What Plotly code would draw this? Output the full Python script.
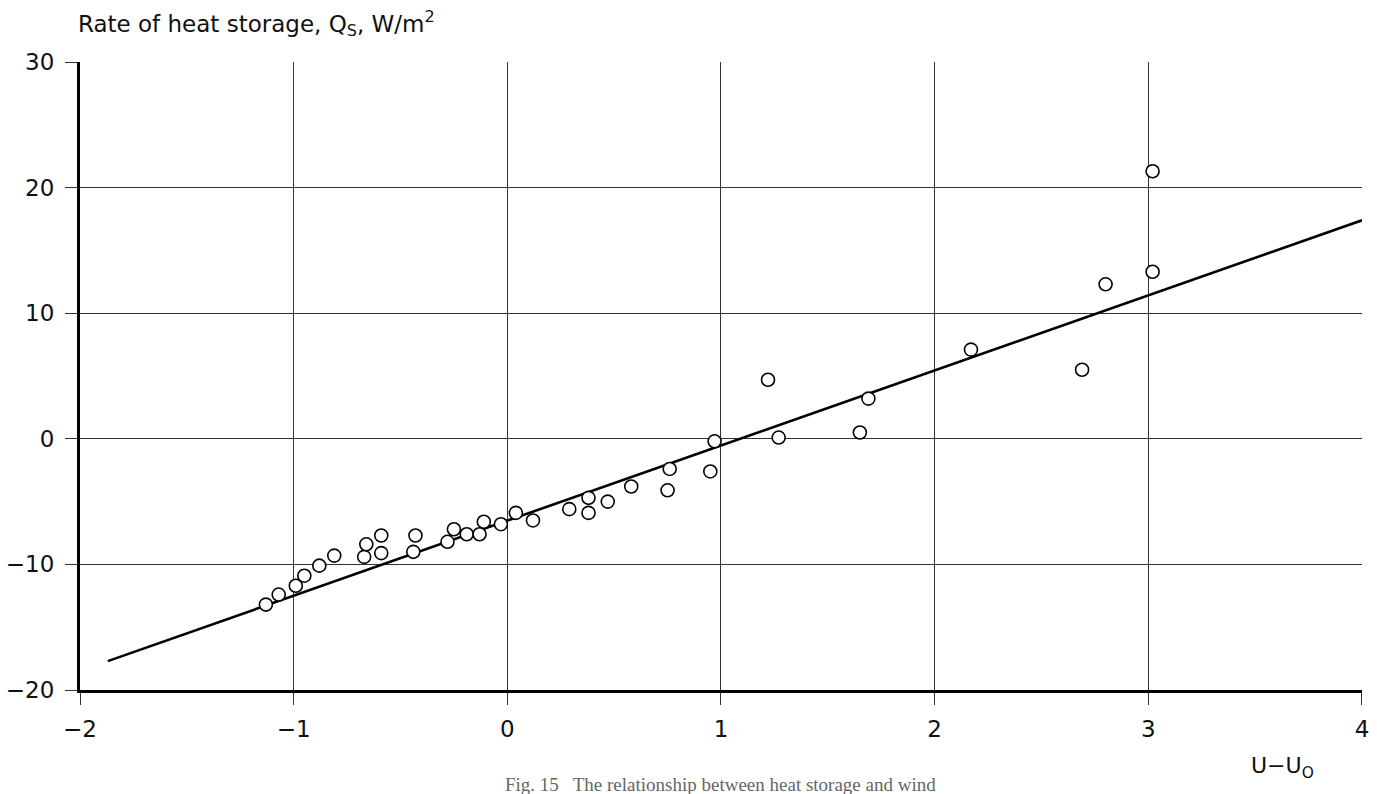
import plotly.graph_objects as go

# Data
u_minus_u0 = [-1.13, -1.07, -0.99, -0.95, -0.88, -0.81, -0.67, -0.66, -0.59, -0.59,
              -0.44, -0.43, -0.28, -0.25, -0.19, -0.13, -0.11, -0.03, 0.04, 0.12,
              0.29, 0.38, 0.38, 0.47, 0.58, 0.75, 0.76, 0.95, 0.97, 1.22,
              1.27, 1.65, 1.69, 2.17, 2.69, 2.80, 3.02, 3.02]
heat_storage = [-13.2, -12.4, -11.7, -10.9, -10.1, -9.3, -9.4, -8.4, -9.1, -7.7,
                -9.0, -7.7, -8.2, -7.2, -7.6, -7.6, -6.6, -6.8, -5.9, -6.5,
                -5.6, -4.7, -5.9, -5.0, -3.8, -4.1, -2.4, -2.6, -0.2, 4.7,
                0.1, 0.5, 3.2, 7.1, 5.5, 12.3, 13.3, 21.3]

# Fitted regression line endpoints
fit_x = [-1.87, 4.0]
fit_y = [-17.7, 17.4]

x_ticks = [-2, -1, 0, 1, 2, 3, 4]
y_ticks = [-20, -10, 0, 10, 20, 30]

FONT = "DejaVu Sans"

fig = go.Figure()
fig.add_trace(go.Scatter(x=fit_x, y=fit_y, mode="lines",
                         line=dict(color="black", width=2.6), showlegend=False))
fig.add_trace(go.Scatter(x=u_minus_u0, y=heat_storage, mode="markers",
                         marker=dict(symbol="circle", size=13, color="white",
                                     line=dict(color="black", width=1.6)),
                         showlegend=False))

fig.update_xaxes(range=[-2, 4.0001], tickvals=x_ticks,
                 ticktext=["\u22122", "\u22121", "0", "1", "2", "3", "4"],
                 showgrid=True, gridcolor="#333333", gridwidth=1.2,
                 zeroline=False, showline=True, linecolor="black", linewidth=3,
                 ticks="outside", ticklen=12, tickwidth=1.2, tickcolor="#333333",
                 ticklabelstandoff=4, automargin=False,
                 tickfont=dict(family=FONT, size=23, color="#111111"))
fig.update_yaxes(range=[-20, 30.0001], tickvals=y_ticks,
                 ticktext=["\u221220", "\u221210", "0", "10", "20", "30"],
                 showgrid=True, gridcolor="#333333", gridwidth=1.2,
                 zeroline=False, showline=True, linecolor="black", linewidth=3,
                 ticks="outside", ticklen=12, tickwidth=1.2, tickcolor="#333333",
                 ticklabelstandoff=6, automargin=False,
                 tickfont=dict(family=FONT, size=23, color="#111111"))

fig.add_annotation(text="Rate of heat storage, Q<sub>S</sub>, W/m<sup>2</sup>",
                   xref="paper", yref="paper", x=-0.003, y=1.062,
                   xanchor="left", yanchor="middle", showarrow=False,
                   font=dict(family=FONT, size=23, color="#111111"))
fig.add_annotation(text="U\u2212U<sub>O</sub>",
                   xref="paper", yref="paper", x=0.938, y=-0.124,
                   xanchor="center", yanchor="middle", showarrow=False,
                   font=dict(family=FONT, size=22, color="#111111"))
fig.add_annotation(text="Fig. 15   The relationship between heat storage and wind",
                   xref="paper", yref="paper", x=0.33, y=-0.13,
                   xanchor="left", yanchor="top", showarrow=False,
                   font=dict(family="Liberation Serif", size=19, color="#666666"))

fig.update_layout(width=1377, height=794,
                  margin=dict(l=80, r=15, t=62, b=104),
                  paper_bgcolor="white", plot_bgcolor="white",
                  showlegend=False)

fig.write_html("out.html")
